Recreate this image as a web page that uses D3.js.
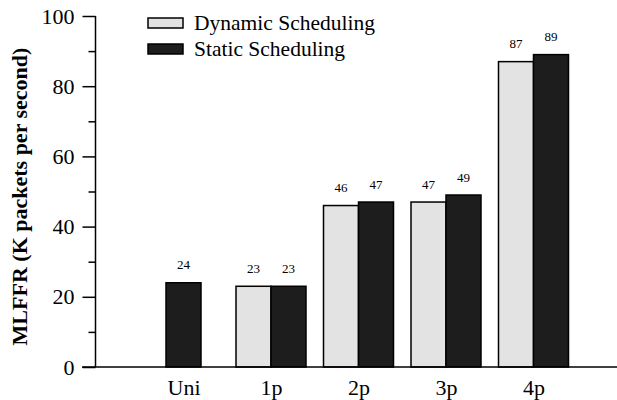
<!DOCTYPE html>
<html>
<head>
<meta charset="utf-8">
<script src="https://cdn.jsdelivr.net/npm/d3@7"></script>
</head>
<body style="margin:0; background:#fff">
<div id="chart"></div>
<script>
// Data
const categories = ["Uni", "1p", "2p", "3p", "4p"];
const dynamicValues = [null, 23, 46, 47, 87];
const staticValues = [24, 23, 47, 49, 89];
const seriesNames = ["Dynamic Scheduling", "Static Scheduling"];
const yTicks = [0, 20, 40, 60, 80, 100];
const yMinorTicks = [10, 30, 50, 70, 90];

const width = 617;
const height = 400;
const fontFam = "Liberation Serif";

const svg = d3.select("#chart")
    .append("svg")
    .attr("width", width)
    .attr("height", height);

const axisX = 95.5;
const baseY = 367;

const x = d3.scalePoint()
    .domain(categories)
    .range([183.5, 533.5]);

const y = d3.scaleLinear()
    .domain([0, 100])
    .range([baseY, 16]);

const barW = 35;
const colors = ["#e3e3e3", "#1d1d1d"];

// build rows for bars (Uni has no dynamic bar, its static bar is centred)
const bars = [];
categories.forEach((c, i) => {
    const d = dynamicValues[i];
    const s = staticValues[i];
    if (d == null) {
        bars.push({ cat: c, value: s, series: 1, x0: x(c) - barW / 2 });
    } else {
        bars.push({ cat: c, value: d, series: 0, x0: x(c) - barW });
        bars.push({ cat: c, value: s, series: 1, x0: x(c) });
    }
});

svg.selectAll(".bar")
    .data(bars)
    .enter()
    .append("rect")
    .attr("class", "bar")
    .attr("x", d => d.x0)
    .attr("y", d => y(d.value))
    .attr("width", barW)
    .attr("height", d => baseY - y(d.value))
    .attr("fill", d => colors[d.series])
    .attr("stroke", "#000")
    .attr("stroke-width", 1.5);

// value labels
svg.selectAll(".val")
    .data(bars)
    .enter()
    .append("text")
    .attr("class", "val")
    .attr("x", d => d.x0 + barW / 2)
    .attr("y", d => y(d.value) - 13.5)
    .attr("text-anchor", "middle")
    .attr("font-family", fontFam)
    .attr("font-size", 13)
    .text(d => d.value);

// y axis
const yAxis = d3.axisLeft(y)
    .tickValues(yTicks)
    .tickSize(13)
    .tickPadding(8)
    .tickFormat(d3.format("d"));

const gy = svg.append("g")
    .attr("transform", `translate(${axisX},0)`)
    .call(yAxis)
    .attr("font-family", fontFam)
    .attr("font-size", 22);
gy.select(".domain").attr("d", `M0,${y(100)}V${baseY}`).attr("stroke-width", 1.5);
gy.selectAll(".tick line").attr("stroke-width", 1.5);
gy.selectAll(".tick text").attr("font-family", fontFam);

const gyMinor = svg.append("g")
    .attr("transform", `translate(${axisX},0)`)
    .call(d3.axisLeft(y).tickValues(yMinorTicks).tickSize(7).tickFormat(""));
gyMinor.select(".domain").remove();
gyMinor.selectAll(".tick line").attr("stroke-width", 1.5);

// x axis
const gx = svg.append("g")
    .attr("transform", `translate(0,${baseY})`)
    .call(d3.axisBottom(x).tickSize(0).tickPadding(12))
    .attr("font-family", fontFam)
    .attr("font-size", 22);
gx.select(".domain").attr("d", `M82,0H${width}`).attr("stroke-width", 1.5);
gx.selectAll(".tick text").attr("font-family", fontFam);

// y axis title
svg.append("text")
    .attr("transform", `translate(27,196.5) rotate(-90)`)
    .attr("text-anchor", "middle")
    .attr("font-family", fontFam)
    .attr("font-size", 22)
    .attr("font-weight", "bold")
    .text("MLFFR (K packets per second)");

// legend
const legend = svg.append("g")
    .attr("transform", "translate(148,18)");

seriesNames.forEach((name, i) => {
    const row = legend.append("g").attr("transform", `translate(0,${i * 26})`);
    row.append("rect")
        .attr("width", 35)
        .attr("height", 10)
        .attr("fill", colors[i])
        .attr("stroke", "#000")
        .attr("stroke-width", 1.5);
    row.append("text")
        .attr("x", 46)
        .attr("y", 12)
        .attr("font-family", fontFam)
        .attr("font-size", 21.5)
        .text(name);
});
</script>
</body>
</html>
